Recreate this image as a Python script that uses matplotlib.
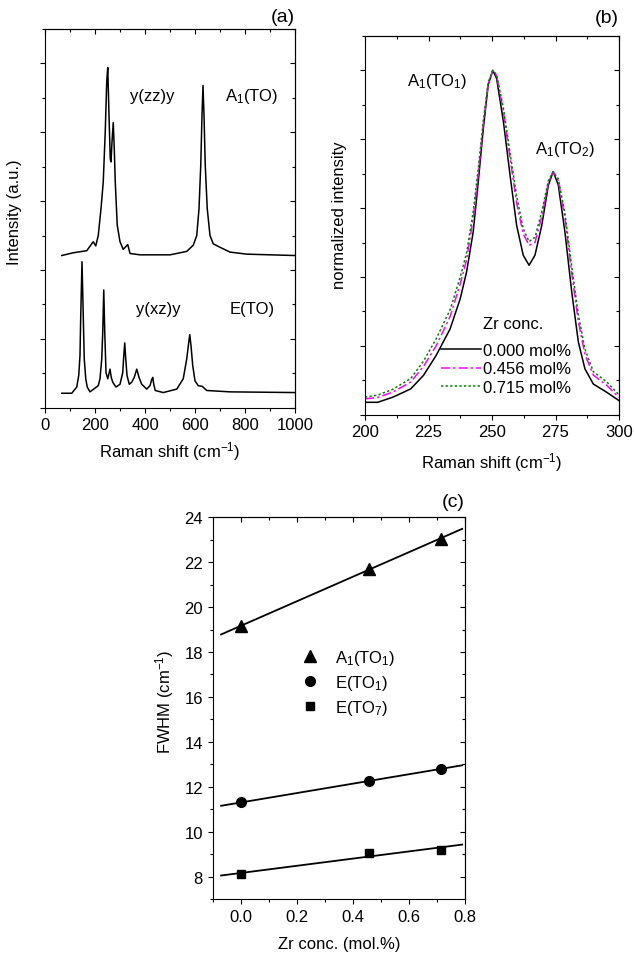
import numpy as np
import matplotlib
matplotlib.use('Agg')
import matplotlib.pyplot as plt
from matplotlib.ticker import MultipleLocator, NullFormatter

plt.rcParams['font.family'] = ['Liberation Sans', 'DejaVu Sans']
plt.rcParams['mathtext.fontset'] = 'custom'
plt.rcParams['mathtext.rm'] = 'Liberation Sans'
plt.rcParams['mathtext.it'] = 'Liberation Sans:italic'
plt.rcParams['font.size'] = 12
plt.rcParams['axes.linewidth'] = 0.8

# (a) polarized Raman spectra (arbitrary units)
zz_shift = [67, 113, 167, 193, 203, 213, 224, 233, 241, 247, 251, 256, 261, 264, 268,
            273, 277, 281, 284, 289, 300, 313, 331, 340, 380, 500, 567, 593, 607, 616,
            623, 628, 632, 636, 641, 649, 660, 673, 700, 740, 807, 1000]
zz_int = [2.21, 2.25, 2.28, 2.41, 2.35, 2.50, 2.89, 3.28, 4.01, 4.74, 4.94, 4.25, 3.62, 3.57, 3.86,
          4.14, 3.77, 3.28, 3.04, 2.65, 2.41, 2.30, 2.37, 2.24, 2.22, 2.22, 2.27, 2.36, 2.50, 2.89,
          3.52, 4.25, 4.68, 4.25, 3.52, 2.89, 2.50, 2.38, 2.33, 2.26, 2.23, 2.21]

xz_shift = [67, 107, 127, 135, 140, 143, 148, 153, 157, 163, 169, 180, 213, 220, 227,
            231, 235, 239, 244, 251, 260, 265, 271, 284, 300, 311, 315, 319, 323, 328,
            337, 347, 357, 367, 376, 387, 407, 420, 427, 431, 435, 441, 473, 527, 553,
            567, 575, 579, 584, 591, 600, 613, 629, 647, 740, 1000]
xz_int = [0.21, 0.21, 0.30, 0.47, 0.76, 1.34, 2.12, 1.34, 0.71, 0.42, 0.30, 0.23, 0.32, 0.42, 0.71,
          1.10, 1.71, 1.10, 0.51, 0.42, 0.56, 0.44, 0.37, 0.30, 0.34, 0.51, 0.75, 0.94, 0.71, 0.47,
          0.34, 0.37, 0.44, 0.56, 0.44, 0.34, 0.27, 0.32, 0.41, 0.44, 0.34, 0.25, 0.22, 0.27, 0.42,
          0.71, 0.95, 1.06, 0.90, 0.61, 0.39, 0.32, 0.31, 0.25, 0.23, 0.22]

# (b) normalized A1(TO) doublet for three Zr concentrations
b_shift = [200, 205, 211, 218, 223, 228, 233.5, 237.5, 240, 242.6, 244.6, 246.6, 248.5, 250.3,
           251.8, 254.5, 257.1, 259.7, 262.3, 264.6, 266.9, 269.6, 272.2, 274.1, 276.1, 278.7,
           281.4, 284, 286.6, 289.9, 295.2, 300]
b_000 = [0.036, 0.036, 0.051, 0.075, 0.114, 0.172, 0.249, 0.337, 0.415, 0.531, 0.677, 0.832, 0.958, 1.0,
         0.977, 0.851, 0.696, 0.550, 0.463, 0.434, 0.463, 0.550, 0.667, 0.706, 0.667, 0.531,
         0.356, 0.211, 0.133, 0.089, 0.065, 0.041]
b_456 = [0.046, 0.050, 0.066, 0.095, 0.140, 0.200, 0.285, 0.380, 0.450, 0.570, 0.700, 0.845, 0.960, 1.0,
         0.985, 0.880, 0.745, 0.615, 0.525, 0.492, 0.500, 0.575, 0.675, 0.706, 0.680, 0.570,
         0.410, 0.270, 0.175, 0.115, 0.085, 0.050]
b_715 = [0.051, 0.057, 0.074, 0.105, 0.155, 0.220, 0.305, 0.400, 0.470, 0.590, 0.715, 0.855, 0.965, 1.0,
         0.988, 0.890, 0.760, 0.635, 0.540, 0.503, 0.515, 0.590, 0.680, 0.706, 0.685, 0.585,
         0.430, 0.290, 0.190, 0.125, 0.095, 0.058]
b_labels = ['0.000 mol%', '0.456 mol%', '0.715 mol%']

# (c) FWHM vs Zr concentration
zr = [0.0, 0.456, 0.715]
fwhm_a1_to1 = [19.15, 21.7, 23.05]
fwhm_e_to1 = [11.3, 12.25, 12.8]
fwhm_e_to7 = [8.1, 9.05, 9.2]

fig = plt.figure(figsize=(6.34, 9.54), dpi=100)
ax_a = fig.add_axes([45/634, 1-408.7/954, 250/634, 378.7/954])
ax_b = fig.add_axes([365/634, 1-415.7/954, 254/634, 378.7/954])
ax_c = fig.add_axes([212.7/634, 1-900/954, 252.3/634, 381.7/954])


def style_axes(ax, xmaj, xmin, ymaj, ymin, ylabels=True):
    # left/bottom ticks point out, top/right ticks point in (Origin look)
    ax.xaxis.set_major_locator(MultipleLocator(xmaj))
    ax.xaxis.set_minor_locator(MultipleLocator(xmin))
    ax.yaxis.set_major_locator(MultipleLocator(ymaj))
    ax.yaxis.set_minor_locator(MultipleLocator(ymin))
    ax.tick_params(which='both', direction='out', width=0.8)
    ax.tick_params(which='major', length=3.5)
    ax.tick_params(which='minor', length=2.5)
    if not ylabels:
        ax.yaxis.set_major_formatter(NullFormatter())
    top = ax.secondary_xaxis('top')
    right = ax.secondary_yaxis('right')
    top.xaxis.set_major_locator(MultipleLocator(xmaj))
    top.xaxis.set_minor_locator(MultipleLocator(xmin))
    right.yaxis.set_major_locator(MultipleLocator(ymaj))
    right.yaxis.set_minor_locator(MultipleLocator(ymin))
    for sec in (top, right):
        sec.tick_params(which='both', direction='in', width=0.8,
                        labeltop=False, labelright=False)
        sec.tick_params(which='major', length=3.5)
        sec.tick_params(which='minor', length=2.5)


# panel (a)
ax_a.plot(zz_shift, zz_int, color='black', lw=1.1)
ax_a.plot(xz_shift, xz_int, color='black', lw=1.1)
ax_a.set_xlim(0, 1000)
ax_a.set_ylim(0, 5.5)
style_axes(ax_a, 200, 100, 1, 0.5, ylabels=False)
ax_a.set_xlabel('Raman shift (cm$^{-1}$)', labelpad=5)
ax_a.set_ylabel('Intensity (a.u.)')
ax_a.yaxis.set_label_coords(-0.09, 0.52)
ax_a.text(428, 4.54, 'y(zz)y', ha='center', va='center')
ax_a.text(828, 4.54, 'A$_1$(TO)', ha='center', va='center')
ax_a.text(452, 1.44, 'y(xz)y', ha='center', va='center')
ax_a.text(828, 1.44, 'E(TO)', ha='center', va='center')
ax_a.text(1.0, 1.01, '(a)', transform=ax_a.transAxes, ha='right', va='bottom', fontsize=14)

# panel (b)
ax_b.plot(b_shift, b_000, color='black', lw=1.1, ls='-', label=b_labels[0])
ax_b.plot(b_shift, b_456, color='#ff00ff', lw=1.1, ls=(0, (6, 2, 1.5, 2)), label=b_labels[1])
ax_b.plot(b_shift, b_715, color='#008000', lw=1.1, ls=(0, (1.5, 1.5)), label=b_labels[2])
ax_b.set_xlim(200, 300)
ax_b.set_ylim(0, 1.1)
style_axes(ax_b, 25, 12.5, 0.2, 0.1, ylabels=False)
ax_b.set_xlabel('Raman shift (cm$^{-1}$)', labelpad=8)
ax_b.set_ylabel('normalized intensity')
ax_b.yaxis.set_label_coords(-0.07, 0.53)
ax_b.text(228.3, 0.97, 'A$_1$(TO$_1$)', ha='center', va='center')
ax_b.text(278.7, 0.773, 'A$_1$(TO$_2$)', ha='center', va='center')
ax_b.legend(frameon=False, loc='lower left', bbox_to_anchor=(0.272, 0.035), borderaxespad=0,
            handlelength=2.4, handletextpad=0.15, labelspacing=0.2)
ax_b.text(0.465, 0.24, 'Zr conc.', transform=ax_b.transAxes, ha='left', va='center')
ax_b.text(1.0, 1.027, '(b)', transform=ax_b.transAxes, ha='right', va='bottom', fontsize=14)

# panel (c)
fit_x = np.array([-0.07, 0.79])
for vals, marker, ms, lab in ((fwhm_a1_to1, '^', 8, 'A$_1$(TO$_1$)'),
                              (fwhm_e_to1, 'o', 7, 'E(TO$_1$)'),
                              (fwhm_e_to7, 's', 6, 'E(TO$_7$)')):
    k, b = np.polyfit(zr, vals, 1)
    ax_c.plot(fit_x, k * fit_x + b, color='black', lw=1.3)
    ax_c.plot(zr, vals, ls='none', marker=marker, ms=ms, color='black', label=lab)
ax_c.set_xlim(-0.1, 0.8)
ax_c.set_ylim(7, 24)
style_axes(ax_c, 0.2, 0.1, 2, 1)
ax_c.set_xlabel('Zr conc. (mol.%)', labelpad=9)
ax_c.set_ylabel('FWHM (cm$^{-1}$)')
ax_c.yaxis.set_label_coords(-0.145, 0.52)
ax_c.legend(frameon=False, loc='center', bbox_to_anchor=(0.52, 0.567),
            handletextpad=0.5, labelspacing=0.35)
ax_c.text(1.0, 1.02, '(c)', transform=ax_c.transAxes, ha='right', va='bottom', fontsize=14)

fig.savefig('out.png', dpi=100)
